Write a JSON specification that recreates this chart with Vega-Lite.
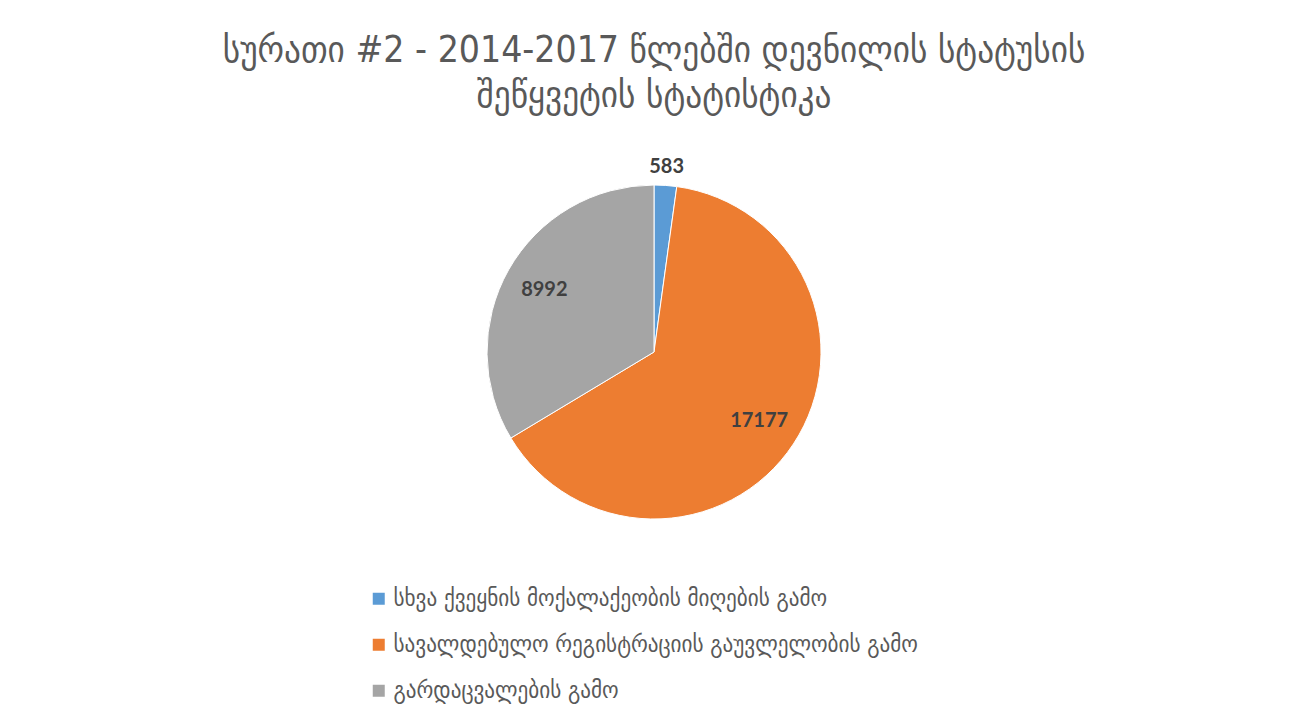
{
  "$schema": "https://vega.github.io/schema/vega-lite/v6.json",
  "autosize": "none",
  "width": 334,
  "height": 334,
  "padding": {"left": 487, "top": 185, "right": 481, "bottom": 200},
  "background": "white",
  "title": {
    "text": ["სურათი #2 - 2014-2017 წლებში დევნილის სტატუსის", "შეწყვეტის სტატისტიკა"],
    "font": "DejaVu Sans Condensed",
    "fontSize": 37,
    "fontWeight": "normal",
    "color": "#595959",
    "anchor": "middle",
    "lineHeight": 45,
    "offset": 42
  },
  "data": {
    "values": [
      {"cat": "სხვა ქვეყნის მოქალაქეობის მიღების გამო", "value": 583},
      {"cat": "სავალდებულო რეგისტრაციის გაუვლელობის გამო", "value": 17177},
      {"cat": "გარდაცვალების გამო", "value": 8992}
    ]
  },
  "encoding": {
    "theta": {"field": "value", "type": "quantitative", "stack": true},
    "order": {"field": "cat", "sort": "descending"},
    "color": {
      "field": "cat",
      "type": "nominal",
      "scale": {
        "domain": ["სხვა ქვეყნის მოქალაქეობის მიღების გამო", "სავალდებულო რეგისტრაციის გაუვლელობის გამო", "გარდაცვალების გამო"],
        "range": ["#5B9BD5", "#ED7D31", "#A5A5A5"]
      },
      "legend": {
        "title": null,
        "orient": "none",
        "legendX": -120,
        "legendY": 402,
        "direction": "vertical",
        "symbolType": "square",
        "symbolSize": 144,
        "symbolStrokeWidth": 0,
        "labelFont": "DejaVu Sans Condensed",
        "labelFontSize": 23.5,
        "labelColor": "#595959",
        "labelOffset": 3,
        "rowPadding": 21,
        "labelLimit": 1000,
        "padding": 0
      }
    }
  },
  "layer": [
    {"mark": {"type": "arc", "outerRadius": 167, "stroke": "white", "strokeWidth": 1}},
    {
      "mark": {"type": "text", "radius": 185, "font": "Lato", "fontWeight": "bold", "fontSize": 20},
      "encoding": {
        "text": {"condition": {"test": "datum.value < 1000", "field": "value", "type": "quantitative"}, "value": ""},
        "color": {"value": "#404040"}
      }
    },
    {
      "mark": {"type": "text", "radius": 126, "font": "Lato", "fontWeight": "bold", "fontSize": 20},
      "encoding": {
        "text": {"condition": {"test": "datum.value >= 1000", "field": "value", "type": "quantitative", "format": "d"}, "value": ""},
        "color": {"value": "#404040"}
      }
    }
  ]
}
